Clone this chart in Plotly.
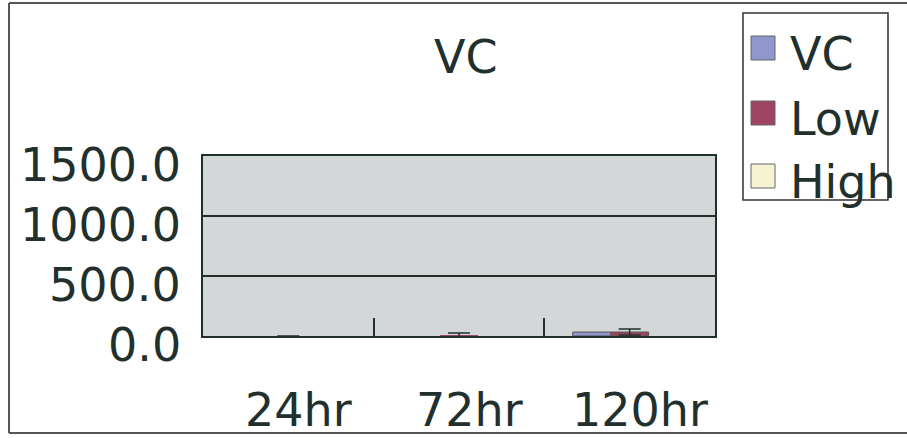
import plotly.graph_objects as go

# Time points and series values
categories = ["24hr", "72hr", "120hr"]
series_names = ["VC", "Low", "High"]
vc_values = [0, 0, 33]
low_values = [0, 3, 33]
high_values = [0, 0, 0]
low_errors = [0, 22, 25]
y_ticks = [0, 500, 1000, 1500]
y_tick_labels = ["0.0", "500.0", "1000.0", "1500.0"]

colors = ["#9197cc", "#9e4563", "#f4f3d2"]
ink = "#22302d"
font = "DejaVu Sans"


def outline(values):
    # only outline bars that actually have height
    return [1 if v > 5 else 0 for v in values]


fig = go.Figure()
fig.add_trace(go.Bar(x=categories, y=vc_values, name=series_names[0],
                     marker=dict(color=colors[0],
                                 line=dict(color="#555", width=outline(vc_values)))))
fig.add_trace(go.Bar(x=categories, y=low_values, name=series_names[1],
                     marker=dict(color=colors[1],
                                 line=dict(color="#555", width=outline(low_values))),
                     error_y=dict(type="data", array=low_errors, color=ink,
                                  thickness=1.5, width=11)))
fig.add_trace(go.Bar(x=categories, y=high_values, name=series_names[2],
                     marker=dict(color=colors[2],
                                 line=dict(color="#555", width=outline(high_values)))))

W, H = 907, 438
L, R, T, B = 203, 715, 156, 336


def px(x):
    return (x - L) / (R - L)


def py(y):
    return (B - y) / (B - T)


annotations = []
# y tick labels, set slightly below their gridlines
for v, lab in zip(y_ticks, y_tick_labels):
    annotations.append(dict(x=-0.04, xref="paper", y=v, yref="y", text=lab,
                            showarrow=False, xanchor="right", yanchor="middle",
                            yshift=-9, font=dict(size=46, color=ink, family=font)))
# category labels
for c in categories:
    annotations.append(dict(x=c, xref="x", y=0, yref="paper", text=c,
                            showarrow=False, xanchor="center", yanchor="middle",
                            xshift=10, yshift=-74,
                            font=dict(size=46, color=ink, family=font)))
# title
annotations.append(dict(x=px(466), y=py(57), xref="paper", yref="paper", text="VC",
                        showarrow=False, xanchor="center", yanchor="middle",
                        font=dict(size=46, color=ink, family=font)))

shapes = []
# legend box with swatches
shapes.append(dict(type="rect", xref="paper", yref="paper",
                   x0=px(743), x1=px(888), y0=py(200), y1=py(13),
                   line=dict(color="#333", width=1.5), fillcolor="white"))
legend_rows = [48, 113, 176]
for name, col, yc in zip(series_names, colors, legend_rows):
    shapes.append(dict(type="rect", xref="paper", yref="paper",
                       x0=px(751), x1=px(775), y0=py(yc + 12), y1=py(yc - 12),
                       line=dict(color="#666", width=1), fillcolor=col))
    annotations.append(dict(x=px(788), y=py(yc + 6), xref="paper", yref="paper",
                            text=name, showarrow=False, xanchor="left",
                            yanchor="middle",
                            font=dict(size=46, color=ink, family=font)))
# outer frame
frame = dict(color="#555", width=2)
shapes.append(dict(type="line", xref="paper", yref="paper",
                   x0=px(9), x1=px(907), y0=py(3), y1=py(3), line=frame))
shapes.append(dict(type="line", xref="paper", yref="paper",
                   x0=px(9), x1=px(9), y0=py(3), y1=py(433), line=frame))
shapes.append(dict(type="line", xref="paper", yref="paper",
                   x0=px(9), x1=px(907), y0=py(433), y1=py(433), line=frame))

fig.update_layout(
    width=W, height=H,
    margin=dict(l=L, r=W - R, t=T, b=H - B, pad=0),
    paper_bgcolor="white",
    plot_bgcolor="#d3d7d7",
    barmode="group",
    bargap=0.333,
    bargroupgap=0,
    showlegend=False,
    annotations=annotations,
    shapes=shapes,
    font=dict(family=font, color=ink),
)
fig.update_xaxes(type="category", showticklabels=False, tickson="boundaries",
                 ticks="inside", ticklen=18, tickwidth=1.5, tickcolor=ink,
                 showline=True, linecolor=ink, linewidth=1.5, mirror=True,
                 showgrid=False)
fig.update_yaxes(range=[0, 1500], tickvals=y_ticks, showticklabels=False,
                 showgrid=True, gridcolor="#2a2a2a", gridwidth=1.5,
                 showline=True, linecolor=ink, linewidth=1.5, mirror=True,
                 zeroline=False, ticks="")

fig.write_html("out.html")
